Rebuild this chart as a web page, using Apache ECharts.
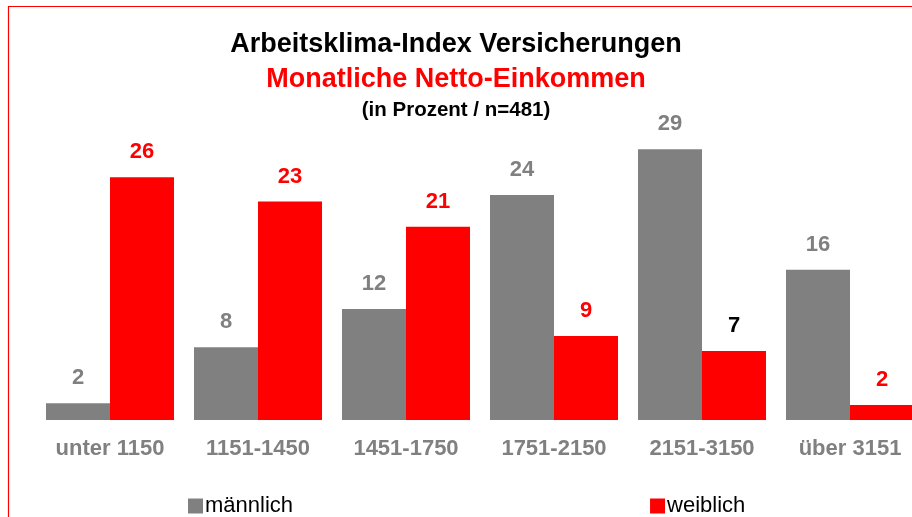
<!DOCTYPE html>
<html lang="de">

<head>
    <meta charset="UTF-8">
    <title>Arbeitsklima-Index Versicherungen</title>
    <style>
        html, body { margin: 0; padding: 0; background: #fff; }
        #chart { width: 912px; height: 517px; }
    </style>
</head>

<body>
    <div id="chart"></div>
    <script src="https://cdn.jsdelivr.net/npm/echarts@6/dist/echarts.min.js"></script>
    <script>
        // Daten (Prozent)
        const categories = ['unter 1150', '1151-1450', '1451-1750', '1751-2150', '2151-3150', 'über 3151'];
        const maleValues = [1.8, 7.8, 11.9, 24.1, 29.0, 16.1];
        const femaleValues = [26.0, 23.4, 20.7, 9.0, 7.4, 1.6];

        const font = "'Liberation Sans', Arial, sans-serif";
        const myChart = echarts.init(document.getElementById('chart'));

        const option = {
            backgroundColor: '#fff',
            animation: false,
            textStyle: { fontFamily: font },
            graphic: [{
                // roter Rahmen
                type: 'rect',
                shape: { x: 8.5, y: 6.5, width: 1000, height: 1000 },
                style: { fill: 'none', stroke: '#ff0000', lineWidth: 1.2 }
            }, {
                type: 'text',
                left: 'center',
                top: 31,
                style: { text: 'Arbeitsklima-Index Versicherungen', font: 'bold 27px ' + font, fill: '#000' }
            }, {
                type: 'text',
                left: 'center',
                top: 66,
                style: { text: 'Monatliche Netto-Einkommen', font: 'bold 27px ' + font, fill: '#ff0000' }
            }, {
                type: 'text',
                left: 'center',
                top: 100,
                style: { text: '(in Prozent / n=481)', font: 'bold 20.5px ' + font, fill: '#000' }
            }],
            legend: {
                left: 188,
                top: 495,
                padding: 0,
                itemWidth: 15,
                itemHeight: 15,
                itemGap: 357,
                icon: 'rect',
                textStyle: { fontSize: 22, color: '#000', fontFamily: font, padding: [0, 0, 0, -3] },
                data: ['männlich', 'weiblich']
            },
            // das Diagramm ragt rechts etwas über den Rand hinaus
            grid: { left: 36, width: 888, top: 140, bottom: 97, outerBoundsMode: 'none', containLabel: false },
            xAxis: {
                type: 'category',
                data: categories,
                axisLine: { show: false },
                axisTick: { show: false },
                axisLabel: { margin: 18, fontSize: 22, fontWeight: 'bold', color: '#808080', fontFamily: font }
            },
            yAxis: {
                type: 'value',
                min: 0,
                max: 30,
                show: false,
                splitLine: { show: false }
            },
            series: [{
                name: 'männlich',
                type: 'bar',
                barGap: '0%',
                barCategoryGap: '13.5%',
                itemStyle: { color: '#808080' },
                label: {
                    show: true,
                    position: 'top',
                    distance: 14,
                    fontSize: 22,
                    fontWeight: 'bold',
                    color: '#808080',
                    fontFamily: font,
                    formatter: p => Math.round(p.value)
                },
                data: maleValues
            }, {
                name: 'weiblich',
                type: 'bar',
                itemStyle: { color: '#ff0000' },
                label: {
                    show: true,
                    position: 'top',
                    distance: 14,
                    fontSize: 22,
                    fontWeight: 'bold',
                    color: '#ff0000',
                    fontFamily: font,
                    formatter: p => Math.round(p.value)
                },
                // in der Vorlage ist die "7" schwarz beschriftet
                data: femaleValues.map((v, i) => i === 4 ? { value: v, label: { color: '#000' } } : v)
            }]
        };

        myChart.setOption(option);
    </script>
</body>

</html>
